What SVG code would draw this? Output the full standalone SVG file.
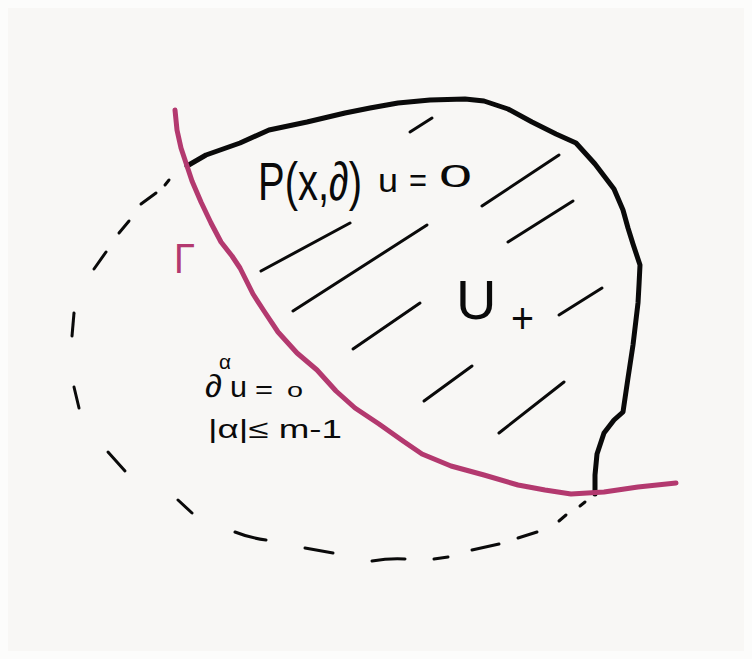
<svg xmlns="http://www.w3.org/2000/svg" width="752" height="659" viewBox="0 0 752 659">
<style>
.bd{fill:none;stroke:#0a0a0a;stroke-width:5;stroke-linecap:round;stroke-linejoin:round}
.mg{fill:none;stroke:#b3396f;stroke-width:5;stroke-linecap:round;stroke-linejoin:round}
.ht{fill:none;stroke:#0a0a0a;stroke-width:3;stroke-linecap:round}
.ds{fill:none;stroke:#0a0a0a;stroke-width:3;stroke-linecap:round}
.t{font-family:"Liberation Sans","DejaVu Sans",sans-serif;fill:#0a0a0a}
</style>
<rect x="0" y="0" width="752" height="659" fill="#fcfcfb"/>
<rect x="8" y="8" width="736" height="643" fill="#f8f7f5"/>
<g id="dashed-boundary">
<path class="ds" d="M165,185 L169,180"/>
<path class="ds" d="M141,204 L156,193"/>
<path class="ds" d="M119,233 L129,221"/>
<path class="ds" d="M94,269 L106,252"/>
<path class="ds" d="M72,336 L74,313"/>
<path class="ds" d="M74,387 L79,408"/>
<path class="ds" d="M108,452 L125,471"/>
<path class="ds" d="M178,500 L192,513"/>
<path class="ds" d="M235,532 Q250,538 266,540"/>
<path class="ds" d="M305,548 L333,553"/>
<path class="ds" d="M372,561 Q390,558 405,559"/>
<path class="ds" d="M434,559 L448,557"/>
<path class="ds" d="M472,550 L499,544"/>
<path class="ds" d="M518,538 L537,532"/>
<path class="ds" d="M559,521 L566,515"/>
<path class="ds" d="M580,506 L585,502"/>
</g>
<g id="region-boundary">
<path class="bd" d="M187,166 L206,155 L240,143 L269,130 L307,122 L345,113 L370,108 L398,103 L430,100 L465,99 L484,101 L508,109 L532,122 L556,134 L576,143 L595,164 L614,189 L623,210 L628,228 L633,244 L640,265 L639,285 L638,303 L633,345 L628,378 L623,412 L614,420 L604,433 L597,454 L595,475 L595,494"/>
</g>
<g id="gamma-curve">
<path class="mg" d="M175,110 L177,130 L181,148 L185,160 L192,181 L201,202 L211,223 L221,242 L232,256 L240,268 L246,280 L253,294 L264,311 L278,332 L297,353 L317,370 L336,391 L355,408 L379,424 L403,441 L422,454 L451,466 L484,475 L518,485 L545,490 L571,494 L604,492 L638,487 L676,483"/>
</g>
<g id="hatching">
<path class="ht" d="M410,132 L432,118"/>
<path class="ht" d="M482,206 L559,155"/>
<path class="ht" d="M508,242 L573,201"/>
<path class="ht" d="M261,271 L350,223"/>
<path class="ht" d="M293,311 L427,225"/>
<path class="ht" d="M559,315 L602,288"/>
<path class="ht" d="M353,349 L420,303"/>
<path class="ht" d="M424,401 L472,366"/>
<path class="ht" d="M499,433 L564,382"/>
</g>
<g id="labels">
<text class="t" transform="translate(258,200) scale(0.74,1)" x="0" y="0" font-size="54">P(x,∂)</text>
<text class="t" y="192"><tspan x="378" font-size="34" textLength="20" lengthAdjust="spacingAndGlyphs">u</tspan><tspan x="409" font-size="34" textLength="18" lengthAdjust="spacingAndGlyphs">=</tspan><tspan x="439" y="187" font-size="31" textLength="33" lengthAdjust="spacingAndGlyphs">0</tspan></text>
<text x="174" y="273" font-size="42" fill="#b3396f" font-family="Liberation Sans, DejaVu Sans, sans-serif" textLength="21" lengthAdjust="spacingAndGlyphs">Γ</text>
<text class="t" y="319"><tspan x="456" font-size="56">U</tspan><tspan x="511" y="333" font-size="42" textLength="23" lengthAdjust="spacingAndGlyphs">+</tspan></text>
<text class="t" y="397"><tspan x="205" font-size="32" textLength="17" lengthAdjust="spacingAndGlyphs">∂</tspan><tspan x="219" y="369" font-size="21" textLength="12" lengthAdjust="spacingAndGlyphs">α</tspan><tspan x="230" y="397" font-size="29" textLength="17" lengthAdjust="spacingAndGlyphs">u</tspan><tspan x="255" y="398" font-size="26" textLength="18" lengthAdjust="spacingAndGlyphs">=</tspan><tspan x="287" y="397" font-size="20" textLength="16" lengthAdjust="spacingAndGlyphs">o</tspan></text>
<text class="t" x="208" y="438" font-size="26" textLength="134" lengthAdjust="spacingAndGlyphs">|α|≤ m-1</text>
</g>
</svg>
